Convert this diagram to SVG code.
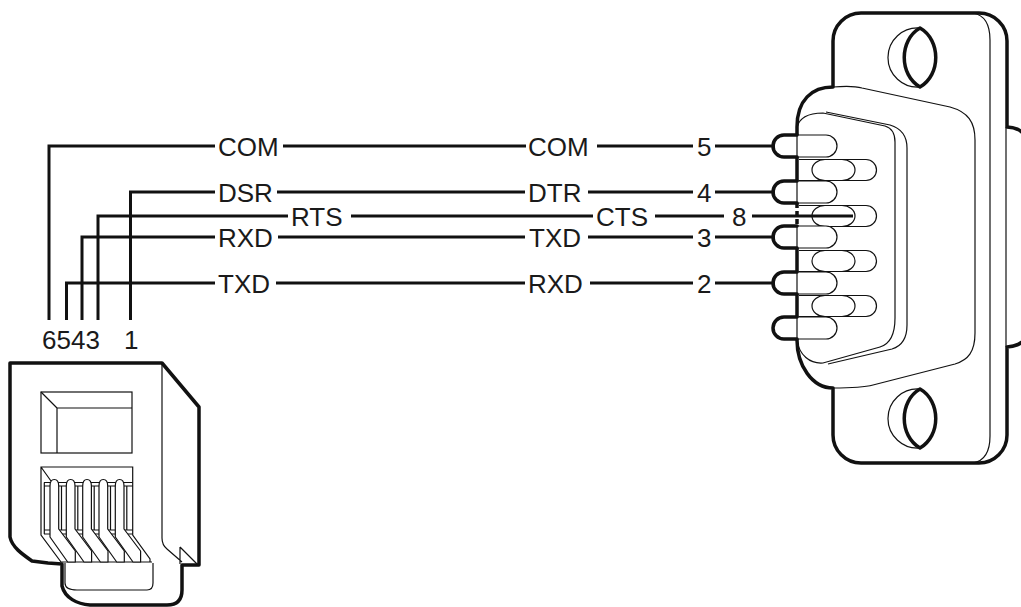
<svg xmlns="http://www.w3.org/2000/svg" width="1021" height="607" viewBox="0 0 1021 607">
<style>
.w{fill:none;stroke:#111;stroke-width:3;stroke-linejoin:miter;stroke-linecap:butt}
.thk{fill:#fff;stroke:#111;stroke-width:3.5;stroke-linejoin:round}
.thkn{fill:none;stroke:#111;stroke-width:3.5;stroke-linejoin:round;stroke-linecap:round}
.thn{fill:none;stroke:#111;stroke-width:1.2}
.thnf{fill:#fff;stroke:#111;stroke-width:1.2;stroke-linejoin:round}
text{font-family:"Liberation Sans",Arial,sans-serif;font-size:26px;fill:#1a1a1a}
</style>
<defs>
<path id="p1in" d="M784,-11 L826,-11 A11,11 0 0 1 826,11 L784,11 A11,11 0 0 1 784,-11 Z"/>
<path id="p1out" d="M797,-11 L784,-11 A11,11 0 0 0 784,11 L797,11"/>
<path id="p2" d="M799,-10.5 L866,-10.5 A10.5,10.5 0 0 1 866,10.5 L799,10.5"/>
<g id="lens"><path class="thn" d="M920,0 A29.6,29.6 0 1 0 920,59"/><path class="thkn" d="M920,0 C899,12 899,47 920,59 C941,47 941,12 920,0 Z"/></g>
</defs>
<rect width="1021" height="607" fill="#fff"/>

<g id="db9">
<path class="thk" d="M833,87 L833,41 A28,28 0 0 1 861,13 L979,13 A28,28 0 0 1 1007,41 L1007,127 Q1028,128 1030,150 L1030,325 Q1028,346 1007,347 L1007,435 A28,28 0 0 1 979,463 L861,463 A28,28 0 0 1 833,435 L833,388 C812,388 797,365 797,340 L797,127 C797,100 812,87 833,87 Z"/>
<path class="thn" d="M1006,127 L1006,347"/>
<path class="thn" d="M973,13 Q990,16 990,40 L990,436 Q990,460 973,463"/>
<path class="thn" d="M833,87 C845,86 855,86 862,88 L950,107 C968,112 975,122 975,140 L975,333 C975,352 968,360 955,364 L873,385 C862,388 850,388 833,388"/>
<path class="thn" d="M797,128 C799,118 808,113 823,113 L885,126 C892,128 895,133 895,142 L895,318 C895,335 890,344 880,347 L823,363 C810,364 799,355 797,340"/>
<path class="thn" d="M826,112 L890,125 C900,128 907,135 907,148 L907,325 C907,338 902,346 892,349 L828,364"/>
<rect x="794" y="203.5" width="6" height="22" fill="#fff"/>
<path d="M797,203 L797,226" stroke="#111" stroke-width="3.5" stroke-dasharray="5 3" fill="none"/>
<g id="row2">
<g transform="translate(0,170)"><use href="#p2" class="thnf"/><rect class="thn" x="812" y="-10.5" width="43" height="21" rx="13" ry="10.5"/></g>
<g transform="translate(0,216)"><use href="#p2" class="thnf"/><rect class="thn" x="812" y="-10.5" width="43" height="21" rx="13" ry="10.5"/></g>
<g transform="translate(0,261)"><use href="#p2" class="thnf"/><rect class="thn" x="812" y="-10.5" width="43" height="21" rx="13" ry="10.5"/></g>
<g transform="translate(0,306)"><use href="#p2" class="thnf"/><rect class="thn" x="812" y="-10.5" width="43" height="21" rx="13" ry="10.5"/></g>
</g>
<g id="row1">
<g transform="translate(0,146)"><use href="#p1in" class="thnf"/><path class="thn" d="M797,-11 V11"/><use href="#p1out" class="thkn"/></g>
<g transform="translate(0,192)"><use href="#p1in" class="thnf"/><path class="thn" d="M797,-11 V11"/><use href="#p1out" class="thkn"/></g>
<g transform="translate(0,237)"><use href="#p1in" class="thnf"/><path class="thn" d="M797,-11 V11"/><use href="#p1out" class="thkn"/></g>
<g transform="translate(0,283)"><use href="#p1in" class="thnf"/><path class="thn" d="M797,-11 V11"/><use href="#p1out" class="thkn"/></g>
<g transform="translate(0,328)"><use href="#p1in" class="thnf"/><path class="thn" d="M797,-11 V11"/><use href="#p1out" class="thkn"/></g>
</g>
<use href="#lens" transform="translate(0,28)"/>
<use href="#lens" transform="translate(0,389)"/>
</g>

<g id="rj11">
<path class="thk" d="M10,363 L162,363 L199,407 L199,565 L182,565 L182,590 C182,600 177,605 167,605 L90,605 C77,604 65,598 62,586 L62,564 L48,563 L32,561 C22,554 12,547 10,537 Z"/>
<path class="thn" d="M65,563 L65,583 Q65,590 77,590 L147,590 Q153,590 153,583 L153,563"/>
<path class="thn" d="M162,363 L162,538 Q162,545 167,549 L182,562 M180,547 L180,564 M180,547 L197,564"/>
<rect class="thn" x="41" y="392" width="91" height="61"/>
<path class="thn" d="M57,453 L57,408 L132,408 M41,392 L57,408"/>
<path class="thn" d="M61,562 L41,535 L41,467 L132.7,467 L132.7,535 L150,559 L150,562 M61,562 L152,562 M41,467 L51,481"/>
<path class="thn" d="M44,482.5 H132.7 M44,486 H132.7 M44,530 H132.7 M44,534 H132.7 M44.3,482.5 V534 M61.5,486 V530 M77.8,486 V530 M94.2,486 V530 M110.5,486 V530 M126.8,486 V530"/>
<g id="fingers">
<path class="thnf" d="M50,537 L50,486 Q50,479.5 54.3,479.5 Q58.7,479.5 58.7,486 L58.7,529 L75.3,551 L75.3,562 L67.7,562 Z"/>
<path class="thnf" transform="translate(16.3,0)" d="M50,537 L50,486 Q50,479.5 54.3,479.5 Q58.7,479.5 58.7,486 L58.7,529 L75.3,551 L75.3,562 L67.7,562 Z"/>
<path class="thnf" transform="translate(32.7,0)" d="M50,537 L50,486 Q50,479.5 54.3,479.5 Q58.7,479.5 58.7,486 L58.7,529 L75.3,551 L75.3,562 L67.7,562 Z"/>
<path class="thnf" transform="translate(49,0)" d="M50,537 L50,486 Q50,479.5 54.3,479.5 Q58.7,479.5 58.7,486 L58.7,529 L75.3,551 L75.3,562 L67.7,562 Z"/>
<path class="thnf" transform="translate(65.3,0)" d="M50,537 L50,486 Q50,479.5 54.3,479.5 Q58.7,479.5 58.7,486 L58.7,529 L75.3,551 L75.3,562 L67.7,562 Z"/>
</g>
<text x="42" y="349">6543</text>
<text x="124" y="349">1</text>
</g>

<g id="connectors">
<path class="w" d="M49,320 V146 H215"/>
<path class="w" d="M130.5,320 V192 H215"/>
<path class="w" d="M98,320 V216 H288"/>
<path class="w" d="M82,320 V237 H215"/>
<path class="w" d="M66.5,320 V283 H215"/>
<path class="w" d="M283,146 H526 M597,146 H693 M715,146 H775"/>
<path class="w" d="M277,192 H525 M588,192 H693 M715,192 H775"/>
<path class="w" d="M351,216 H593 M655,216 H724 M752,216 H853"/>
<path class="w" d="M278,237 H525 M588,237 H693 M715,237 H775"/>
<path class="w" d="M276,283 H525 M590,283 H693 M715,283 H775"/>
</g>

<g id="labels">
<text x="218" y="155.5">COM</text>
<text x="218" y="201.5">DSR</text>
<text x="291" y="225.5">RTS</text>
<text x="218" y="246.5">RXD</text>
<text x="218" y="292.5">TXD</text>
<text x="528" y="155.5">COM</text>
<text x="528" y="201.5">DTR</text>
<text x="596" y="225.5">CTS</text>
<text x="529" y="246.5">TXD</text>
<text x="528" y="292.5">RXD</text>
<text x="697" y="155.5">5</text>
<text x="697" y="201.5">4</text>
<text x="732" y="225.5">8</text>
<text x="697" y="246.5">3</text>
<text x="697" y="292.5">2</text>
</g>
</svg>
